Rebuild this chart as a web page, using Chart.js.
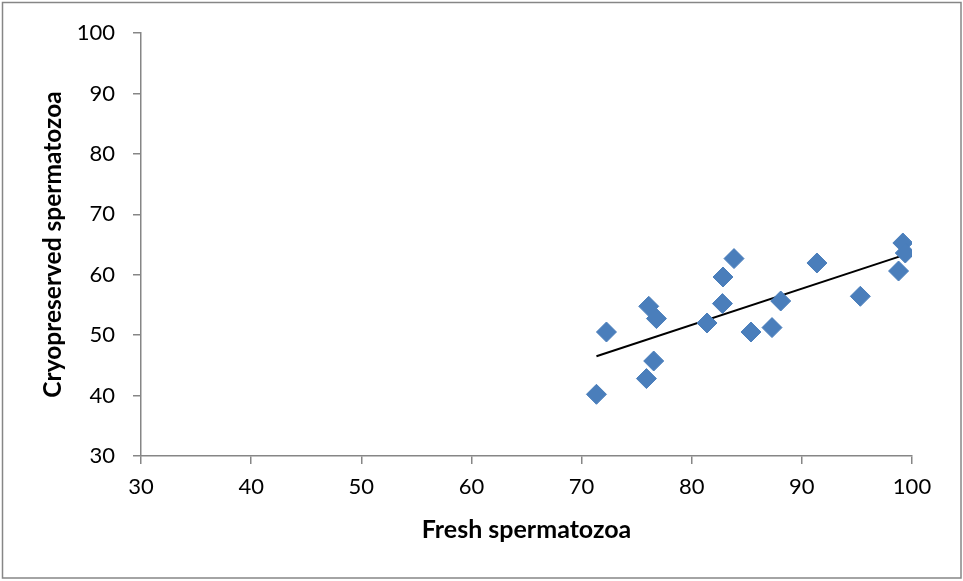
<!DOCTYPE html>
<html>
<head>
<meta charset="utf-8">
<script src="https://cdn.jsdelivr.net/npm/chart.js@4"></script>
<style>
html,body{margin:0;padding:0;background:#fff;}
#wrap{width:963px;height:581px;position:relative;}
</style>
</head>
<body>
<div id="wrap"><canvas id="c" width="963" height="581"></canvas></div>
<script>
const freshValues = [71.35, 72.26, 75.89, 76.10, 76.55, 76.80, 81.39, 82.79, 82.84, 83.84, 85.38, 87.29, 88.08, 91.37, 95.31, 98.78, 99.17, 99.39];
const cryoValues  = [40.21, 50.52, 42.81, 54.77, 45.72, 52.74, 52.01, 55.22, 59.62, 62.67, 50.52, 51.25, 55.65, 61.94, 56.43, 60.61, 65.25, 63.59];
const trendX = [71.35, 99.39];
const trendY = [46.50, 63.33];
const xTitle = 'Fresh spermatozoa';
const yTitle = 'Cryopreserved spermatozoa';
const axisMin = 30, axisMax = 100, axisStep = 10;

const pts = freshValues.map((x, i) => ({x: x, y: cryoValues[i]}));
const trend = trendX.map((x, i) => ({x: x, y: trendY[i]}));

const FONT = "Lato, 'Open Sans', 'Liberation Sans', sans-serif";
const axisGray = '#868686';

const borderPlugin = {
  id: 'outerBorder',
  afterDraw(chart) {
    const ctx = chart.ctx;
    ctx.save();
    ctx.strokeStyle = axisGray;
    ctx.lineWidth = 1.5;
    ctx.strokeRect(2.5, 2.5, 958.5, 575.5);
    ctx.restore();
  }
};

new Chart(document.getElementById('c'), {
  type: 'scatter',
  data: {
    datasets: [
      {
        data: trend,
        showLine: true,
        borderColor: '#000',
        borderWidth: 2,
        pointRadius: 0,
        fill: false,
        order: 2
      },
      {
        data: pts,
        pointStyle: 'rectRot',
        pointRadius: 10,
        pointBackgroundColor: '#4a7ebb',
        pointBorderColor: '#4a7ebb',
        pointBorderWidth: 1,
        order: 1
      }
    ]
  },
  options: {
    responsive: false,
    animation: false,
    layout: {padding: {left: 0, top: 33, right: 51, bottom: 0}},
    plugins: {legend: {display: false}, tooltip: {enabled: false}},
    scales: {
      x: {
        type: 'linear',
        min: axisMin, max: axisMax,
        afterFit(s) { s.height = 125; },
        ticks: {stepSize: axisStep, color: '#000', padding: 10, font: {family: FONT, size: 22}},
        grid: {display: true, drawOnChartArea: false, tickLength: 8, color: axisGray, lineWidth: 1.5},
        border: {color: axisGray, width: 1.5},
        title: {display: true, text: xTitle, color: '#000', font: {family: FONT, size: 25, weight: 'bold'}, padding: {top: 0, bottom: 36}}
      },
      y: {
        type: 'linear',
        min: axisMin, max: axisMax,
        afterFit(s) { s.width = 141; },
        ticks: {stepSize: axisStep, color: '#000', padding: 18, font: {family: FONT, size: 22}},
        grid: {display: true, drawOnChartArea: false, tickLength: 8, color: axisGray, lineWidth: 1.5},
        border: {color: axisGray, width: 1.5},
        title: {display: true, text: yTitle, color: '#000', font: {family: FONT, size: 24.5, weight: 'bold'}, padding: {top: 38, bottom: 0}}
      }
    }
  },
  plugins: [borderPlugin]
});
</script>
</body>
</html>
